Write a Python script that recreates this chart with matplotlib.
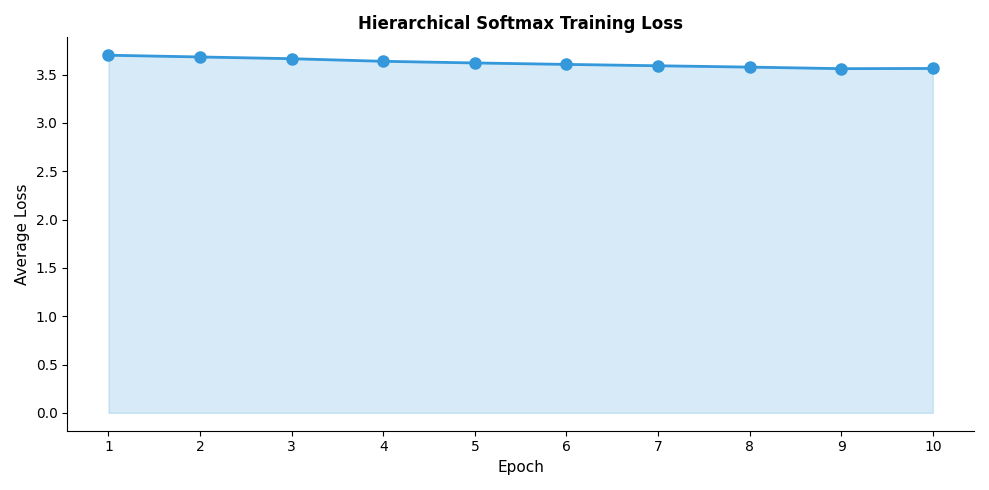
import matplotlib.pyplot as plt

epochs = [1, 2, 3, 4, 5, 6, 7, 8, 9, 10]
losses = [3.70, 3.682, 3.664, 3.637, 3.620, 3.605, 3.591, 3.577, 3.561, 3.563]

fig, ax = plt.subplots(figsize=(9.89, 4.9), dpi=100)
ax.plot(epochs, losses, marker="o", color="#3498db", linewidth=2, markersize=8)
ax.fill_between(epochs, losses, alpha=0.2, color="#3498db")
ax.set_title("Hierarchical Softmax Training Loss", fontweight="bold")
ax.set_xlabel("Epoch", fontsize=11)
ax.set_ylabel("Average Loss", fontsize=11)
ax.set_xticks(epochs)
ax.spines["top"].set_visible(False)
ax.spines["right"].set_visible(False)
plt.tight_layout()
plt.savefig("out.png")
